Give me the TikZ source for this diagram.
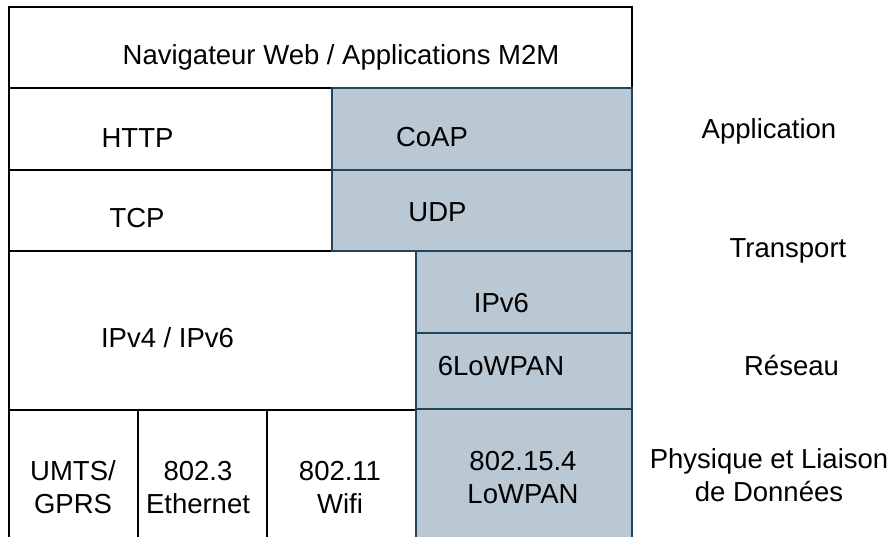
\documentclass[tikz,border=0pt]{standalone}
\usepackage{fontspec}
\setmainfont{Liberation Sans}
\definecolor{stackfill}{HTML}{BAC8D3}
\definecolor{stackline}{HTML}{23445D}
\tikzset{
  plain/.style={draw=black, line width=1.6pt, fill=white},
  lowpan/.style={draw=stackline, line width=1.6pt, fill=stackfill},
  lbl/.style={anchor=base, inner sep=0pt, align=center,
    font=\fontsize{27.5}{33}\selectfont},
}
\begin{document}
\begin{tikzpicture}[x=1pt, y=-1pt]
\useasboundingbox (0,0) rectangle (893,537);
\fill[white] (0,0) rectangle (893,537);
\begin{scope}
\clip (0,0) rectangle (893,537);
% classic Internet stack
\draw[plain] (9,7) rectangle (632,88);
\draw[plain] (9,88) rectangle (332,170);
\draw[plain] (9,170) rectangle (332,251);
\draw[plain] (9,251) rectangle (416,410);
\draw[plain] (9,410) rectangle (138,560);
\draw[plain] (138,410) rectangle (267,560);
\draw[plain] (267,410) rectangle (416,560);
% constrained (6LoWPAN) stack
\draw[lowpan] (332,88) rectangle (632,170);
\draw[lowpan] (332,170) rectangle (632,251);
\draw[lowpan] (416,251) rectangle (632,333);
\draw[lowpan] (416,333) rectangle (632,409);
\draw[lowpan] (416,409) rectangle (632,560);
\end{scope}
% box labels
\node[lbl] (nav)  at (341,65)  {Navigateur Web / Applications M2M};
\node[lbl] (http) at (137.5,148) {HTTP};
\node[lbl] (coap) at (432,147) {CoAP};
\node[lbl] (tcp)  at (137,228) {TCP};
\node[lbl] (udp)  at (437.5,222) {UDP};
\node[lbl] (ip46) at (167.5,347) {IPv4 / IPv6};
\node[lbl] (ip6)  at (501.5,312) {IPv6};
\node[lbl] (slp)  at (501,375) {6LoWPAN};
\node[lbl] (umts) at (73,513)  {UMTS/\\GPRS};
\node[lbl] (eth)  at (198,513) {802.3\\Ethernet};
\node[lbl] (wifi) at (340,513) {802.11\\Wifi};
\node[lbl] (wpan) at (523,503) {802.15.4\\LoWPAN};
% layer names
\node[lbl] (lapp) at (769,139) {Application};
\node[lbl] (ltr)  at (788,258) {Transport};
\node[lbl] (lnet) at (791.5,375) {Réseau};
\node[lbl] (lphy) at (769,501) {Physique et Liaison\\de Données};
\end{tikzpicture}
\end{document}
